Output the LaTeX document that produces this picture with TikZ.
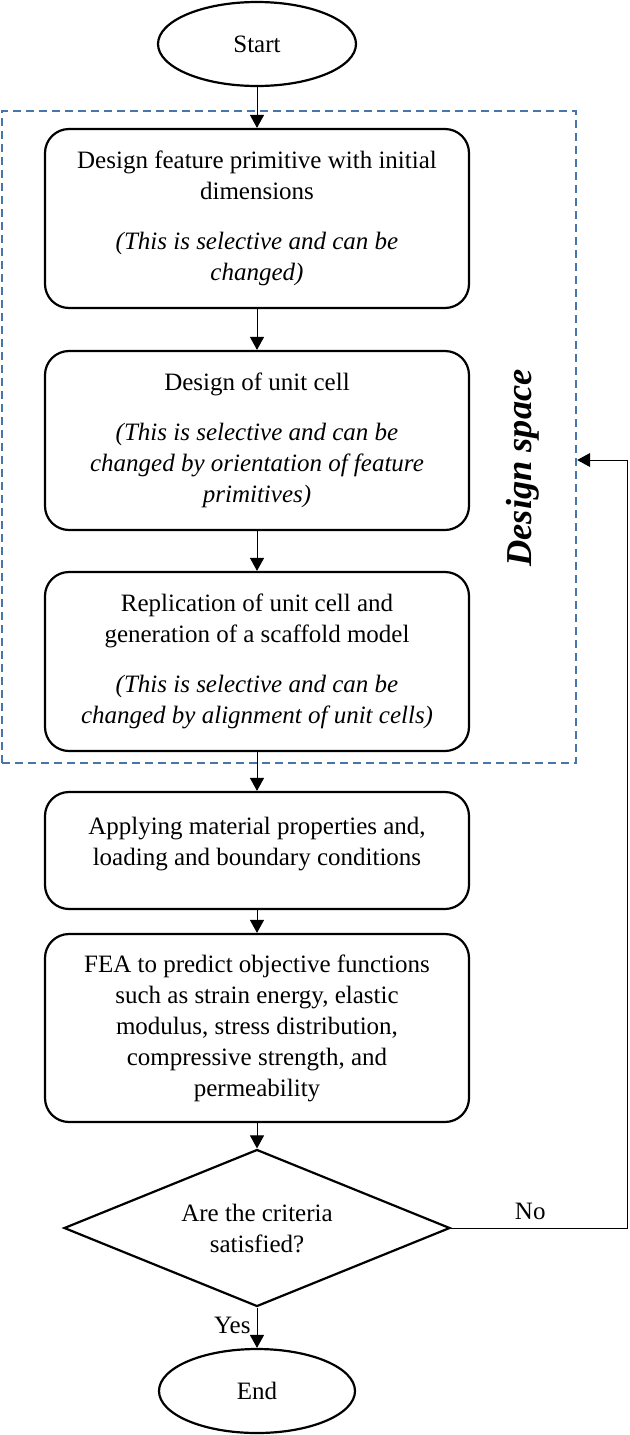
\documentclass[tikz,border=0pt]{standalone}
\usepackage{fontspec}
\setmainfont{Liberation Serif}
\usetikzlibrary{shapes.geometric,arrows.meta}
\definecolor{dsblue}{RGB}{72,118,170}
\begin{document}
\begin{tikzpicture}[x=0.5pt,y=-0.5pt,
  font=\fontsize{12.5}{15.5}\selectfont,
  proc/.style={draw, line width=1.1pt, rounded corners=12pt, minimum width=212pt, align=center, inner sep=0pt},
  term/.style={draw, ellipse, line width=1.1pt, minimum width=99pt, minimum height=42pt, inner sep=0pt},
  arr/.style={-{Triangle[length=6.5pt,width=7pt]}, line width=0.5pt},
  lbl/.style={inner sep=3pt}
]
\useasboundingbox (0,0) rectangle (629,1435);

\node[draw=dsblue, dash pattern=on 4pt off 2.5pt, line width=1.2pt, minimum width=287pt, minimum height=326pt, inner sep=0pt] (ds) at (289,437) {};
\node[rotate=90, font=\fontsize{18.2}{20}\selectfont\bfseries\itshape] (dsl) at (523,468) {Design space};

\node[term] (start) at (257,44) {Start};
\node[proc, minimum height=89.5pt] (b1) at (257,218.5) {Design feature primitive with initial\\dimensions\\[9.5pt]\textit{(This is selective and can be}\\\textit{changed)}};
\node[proc, minimum height=89.5pt] (b2) at (257,440.5) {Design of unit cell\\[9.5pt]\textit{(This is selective and can be}\\\textit{changed by orientation of feature}\\\textit{primitives)}};
\node[proc, minimum height=89.5pt] (b3) at (257,661.5) {Replication of unit cell and\\generation of a scaffold model\\[9.5pt]\textit{(This is selective and can be}\\\textit{changed by alignment of unit cells)}};
\node[proc, minimum height=58.5pt] (b4) at (257,850.5) {Applying material properties and,\\loading and boundary conditions\\[-6.5pt]\mbox{}};
\node[proc, minimum height=94pt] (b5) at (257,1028) {FEA to predict objective functions\\such as strain energy, elastic\\modulus, stress distribution,\\compressive strength, and\\permeability};
\node[draw, diamond, line width=1.1pt, aspect=2.46, minimum width=193pt, minimum height=78.5pt, inner sep=0pt, align=center] (dia) at (257,1228) {Are the criteria\\satisfied?};
\node[term, minimum width=98pt] (end) at (257,1391) {End};

\coordinate (fb) at (627,460);

\draw[arr] (start) -- (b1);
\draw[arr] (b1) -- (b2);
\draw[arr] (b2) -- (b3);
\draw[arr] (b3) -- (b4);
\draw[arr] (b4) -- (b5);
\draw[arr] (b5) -- (dia);
\draw[arr] (dia) -- node[lbl, left, pos=0.45] {Yes} (end);
\draw[arr] (dia.east) -| node[lbl, above, pos=0.225, yshift=1pt] {No} (fb) -- (ds.east |- fb);
\end{tikzpicture}
\end{document}
